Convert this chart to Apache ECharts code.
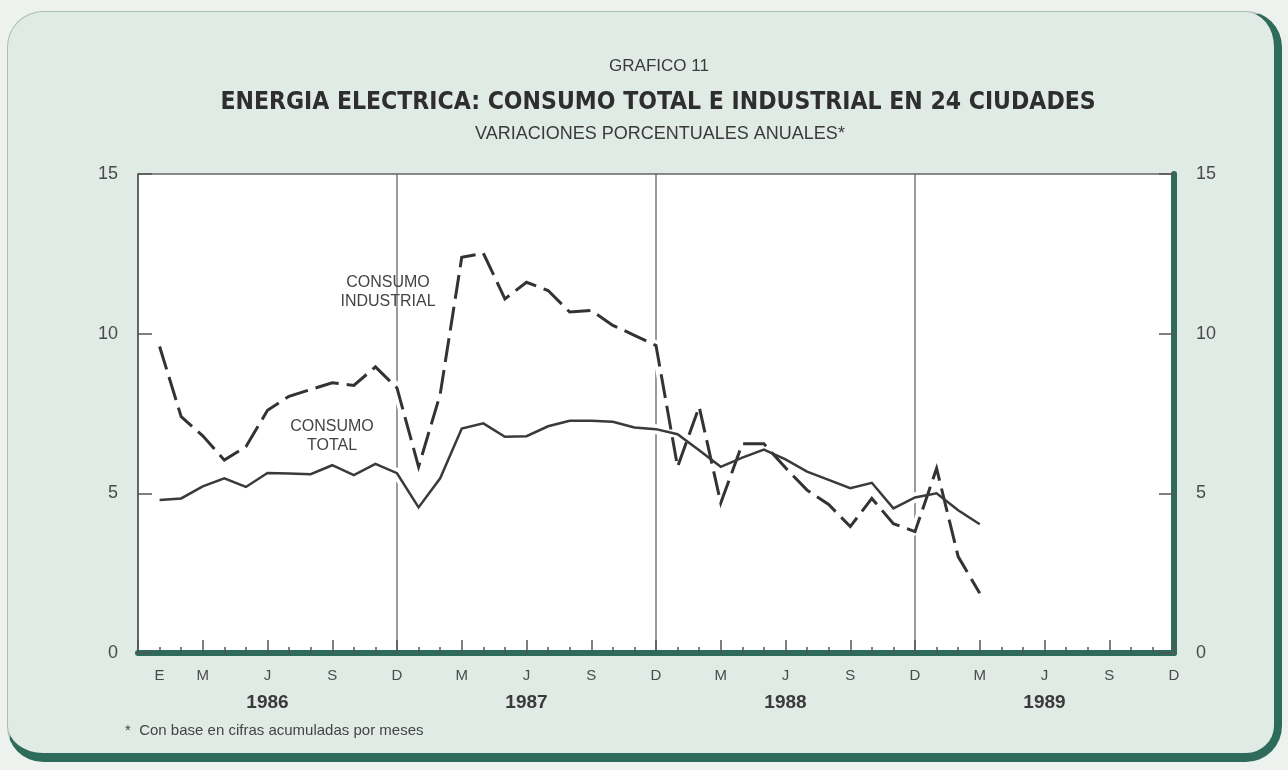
<!DOCTYPE html>
<html><head><meta charset="utf-8">
<script src="https://cdn.jsdelivr.net/npm/echarts@6/dist/echarts.min.js"></script>
<style>
html,body{margin:0;padding:0;background:#edf2ef;width:1288px;height:770px;overflow:hidden;}
#card{position:absolute;left:7px;top:11px;width:1266px;height:741px;border-radius:36px;background:#e0ebe6;border-top:1.5px solid #a9bdb4;border-left:1.5px solid #a9bdb4;border-right:8px solid #2f6b5b;border-bottom:9px solid #2f6b5b;}
#chart{position:absolute;left:0;top:0;width:1288px;height:770px;}
</style></head><body><div id="card"></div><div id="chart"></div>
<script>
// month index: 0 = Dic 1985, 1 = Ene 1986 ... 48 = Dic 1989
const monthLetters = ['D','E','F','M','A','M','J','J','A','S','O','N'];
const yearLabels = ['1986','1987','1988','1989'];
const firstMonth = 1; // Ene 1986
const yTickValues = [0, 5, 10, 15];
// Ene 1986 ... Mar 1989
const consumoTotal = [4.79,4.84,5.22,5.47,5.20,5.64,5.62,5.60,5.88,5.57,5.92,5.63,
  4.56,5.47,7.03,7.19,6.77,6.79,7.10,7.27,7.27,7.24,7.06,7.01,
  6.85,6.35,5.83,6.12,6.37,6.06,5.68,5.42,5.16,5.33,4.53,4.87,
  5.00,4.47,4.03];
const consumoIndustrial = [9.60,7.40,6.80,6.04,6.46,7.60,8.04,8.25,8.46,8.38,8.96,8.30,
  5.83,8.10,12.39,12.52,11.09,11.61,11.35,10.68,10.73,10.26,9.95,9.63,
  5.83,7.71,4.70,6.55,6.55,5.80,5.10,4.65,3.96,4.84,4.05,3.80,
  5.78,3.02,1.87];

const toPairs = arr => arr.map((v, i) => [firstMonth + i, v]);
const txt = '#4a4a4a';
const green = '#2f6b5b';
const chart = echarts.init(document.getElementById('chart'), null, {renderer: 'canvas'});

chart.setOption({
  animation: false,
  backgroundColor: 'transparent',
  grid: {left: 138, right: 114, top: 174, bottom: 117, show: true, backgroundColor: '#ffffff', borderWidth: 0},
  xAxis: [
    {type: 'value', min: 0, max: 48, interval: 1, position: 'bottom',
     axisLine: {show: true, onZero: false, lineStyle: {color: green, width: 6}},
     axisTick: {show: true, inside: true, length: 6, lineStyle: {color: '#555', width: 1.5}},
     splitLine: {show: false},
     axisLabel: {show: true, margin: 9, color: txt, fontFamily: 'Liberation Sans', fontSize: 15, lineHeight: 27,
       formatter: v => {
         const m = Math.round(v);
         if (m < 1) return '';
         const mm = m % 12;
         if (!(mm % 3 === 0 || m === 1)) return '';
         const letter = monthLetters[mm];
         if (mm === 6) return letter + '\n{yr|' + yearLabels[Math.floor(m / 12)] + '}';
         return letter;
       },
       rich: {yr: {fontSize: 19, fontWeight: 'bold', color: '#3a3a3a', fontFamily: 'Liberation Sans', lineHeight: 27}}
     }},
    {type: 'value', min: 0, max: 48, interval: 3, position: 'bottom',
     axisLine: {show: false, onZero: false}, axisLabel: {show: false}, splitLine: {show: false},
     axisTick: {show: true, inside: true, length: 13, lineStyle: {color: '#555', width: 1.5}}},
    {type: 'value', min: 0, max: 48, interval: 12, position: 'top',
     axisLine: {show: true, onZero: false, lineStyle: {color: '#666', width: 1.5}},
     axisTick: {show: false}, axisLabel: {show: false},
     splitLine: {show: true, lineStyle: {color: '#7a7a7a', width: 1.5}}}
  ],
  yAxis: [
    {type: 'value', min: yTickValues[0], max: yTickValues[3], interval: 5, position: 'left',
     axisLine: {show: true, onZero: false, lineStyle: {color: '#555', width: 1.5}},
     axisTick: {show: true, inside: true, length: 14, lineStyle: {color: '#555', width: 1.5}},
     splitLine: {show: false},
     axisLabel: {margin: 20, color: txt, fontSize: 18, fontFamily: 'Liberation Sans'}},
    {type: 'value', min: yTickValues[0], max: yTickValues[3], interval: 5, position: 'right',
     axisLine: {show: true, onZero: false, lineStyle: {color: green, width: 6}},
     axisTick: {show: true, inside: true, length: 15, lineStyle: {color: '#555', width: 1.5}},
     splitLine: {show: false},
     axisLabel: {margin: 22, color: txt, fontSize: 18, fontFamily: 'Liberation Sans'}}
  ],
  series: [
    {type: 'line', name: 'halo-ind', data: toPairs(consumoIndustrial), showSymbol: false, silent: true, z: 2,
     lineStyle: {color: '#ffffff', width: 10}},
    {type: 'line', name: 'halo-tot', data: toPairs(consumoTotal), showSymbol: false, silent: true, z: 2,
     lineStyle: {color: '#ffffff', width: 10}},
    {type: 'line', name: 'Consumo industrial', data: toPairs(consumoIndustrial), showSymbol: false, z: 3,
     lineStyle: {color: '#333333', width: 3, type: [24, 8], cap: 'butt', join: 'miter'}},
    {type: 'line', name: 'Consumo total', data: toPairs(consumoTotal), showSymbol: false, z: 3,
     lineStyle: {color: '#3a3a3a', width: 2.5, join: 'miter'}}
  ],
  graphic: [
    {type: 'text', x: 659, y: 66, style: {text: 'GRAFICO 11', fontFamily: 'Liberation Sans', fontSize: 17, fill: '#3a3a3a', align: 'center', verticalAlign: 'middle'}},
    {type: 'text', x: 658, y: 103, style: {text: 'ENERGIA ELECTRICA: CONSUMO TOTAL E INDUSTRIAL EN 24 CIUDADES', fontFamily: 'DejaVu Sans Condensed', fontWeight: 'bold', fontSize: 24.5, fill: '#2e2e2e', align: 'center', verticalAlign: 'middle'}},
    {type: 'text', x: 660, y: 134, style: {text: 'VARIACIONES PORCENTUALES ANUALES*', fontFamily: 'Liberation Sans', fontSize: 18, fill: '#3a3a3a', align: 'center', verticalAlign: 'middle'}},
    {type: 'text', x: 388, y: 292, z: 10, style: {text: 'CONSUMO\nINDUSTRIAL', fontFamily: 'Liberation Sans', fontSize: 16, lineHeight: 19, fill: '#444', align: 'center', verticalAlign: 'middle'}},
    {type: 'text', x: 332, y: 436, z: 10, style: {text: 'CONSUMO\nTOTAL', fontFamily: 'Liberation Sans', fontSize: 16, lineHeight: 19, fill: '#444', align: 'center', verticalAlign: 'middle'}},
    {type: 'text', x: 125, y: 731, style: {text: '*  Con base en cifras acumuladas por meses', fontFamily: 'Liberation Sans', fontSize: 15, fill: '#444', align: 'left', verticalAlign: 'middle'}}
  ]
});
</script></body></html>
